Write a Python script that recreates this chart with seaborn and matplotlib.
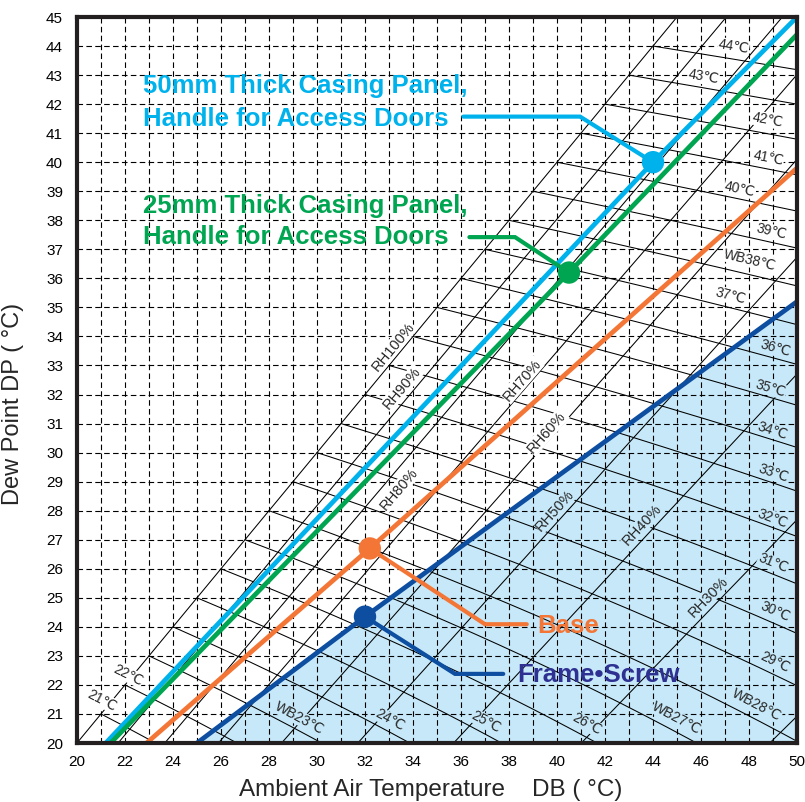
import numpy as np
import pandas as pd
import matplotlib
matplotlib.use('Agg')
import matplotlib.pyplot as plt
import seaborn as sns

# condensation limit lines, dry bulb DB vs dew point DP
casing50_db = [21.2, 44.0, 50.0]
casing50_dp = [20.0, 40.0, 45.0]
casing25_db = [21.4, 40.5, 50.0]
casing25_dp = [20.0, 36.2, 44.4]
base_db = [22.9, 32.2, 50.0]
base_dp = [20.0, 26.7, 39.8]
frame_db = [25.0, 32.0, 50.0]
frame_dp = [20.0, 24.35, 35.2]

# marked points on each line
point_names = ['50mm', '25mm', 'Base', 'Frame']
point_db = [44.0, 40.5, 32.2, 32.0]
point_dp = [40.0, 36.2, 26.7, 24.35]

# psychrometric background
rh_levels = [100, 90, 80, 70, 60, 50, 40, 30, 20]
rh_labels = ['RH100%', 'RH90%', 'RH80%', 'RH70%', 'RH60%', 'RH50%', 'RH40%', 'RH30%']
wb_levels = list(range(21, 45))
wb_labels = ['21℃', '22℃', 'WB23℃', '24℃', '25℃', '26℃', 'WB27℃', 'WB28℃',
             '29℃', '30℃', '31℃', '32℃', '33℃', '34℃', '35℃', '36℃', '37℃',
             'WB38℃', '39℃', '40℃', '41℃', '42℃', '43℃', '44℃']

# label placement (DB, DP of label centre)
rh_label_pos = [(33.17, 33.64), (33.54, 32.22), (33.42, 28.75), (38.54, 32.5),
                (39.58, 30.71), (39.92, 28.02), (43.54, 27.5), (46.29, 25.03)]
wb_label_pos = [(21.03, 21.48), (22.14, 22.34), (29.29, 20.85), (33.04, 20.79),
                (37.04, 20.73), (41.26, 20.65), (44.99, 20.85), (48.32, 21.31),
                (49.08, 22.8), (49.08, 24.52), (49.0, 26.19), (49.0, 27.74),
                (49.0, 29.29), (48.98, 30.75), (48.9, 32.21), (49.1, 33.59),
                (47.25, 35.39), (48.04, 36.63), (48.94, 37.61), (47.63, 39.07),
                (48.8, 40.13), (48.8, 41.45), (46.1, 42.94), (47.35, 43.98)]

CYAN = '#00b2ec'
GREEN = '#00a551'
ORANGE = '#f47636'
NAVY = '#0d4ea1'
INDIGO = '#2e3192'
SHADE = '#c6e8f8'

P_ATM = 1013.25


def sat_vp(t):
    return 6.112 * np.exp(17.62 * t / (243.12 + t))


def dew_point(e):
    g = np.log(e / 6.112)
    return 243.12 * g / (17.62 - g)


def rh_curve(rh, db):
    return dew_point(rh / 100.0 * sat_vp(db))


def wb_curve(wb, db):
    ws = 0.622 * sat_vp(wb) / (P_ATM - sat_vp(wb))
    w = ((2501 - 2.326 * wb) * ws - 1.006 * (db - wb)) / (2501 + 1.86 * db - 4.186 * wb)
    w = np.where(w > 0, w, np.nan)
    return dew_point(w * P_ATM / (0.622 + w))


sns.set_style('white')
plt.rcParams['font.family'] = ['Liberation Sans', 'DejaVu Sans']

fig = plt.figure(figsize=(8.05, 8.02), dpi=100)
ax = fig.add_axes([77 / 805, 59 / 802, 720 / 805, 726 / 802])
ax.set_xlim(20, 50)
ax.set_ylim(20, 45)

sx = 720 / 30.0
sy = 726 / 25.0


def screen_angle(dx, dy):
    return np.degrees(np.arctan2(dy * sy, dx * sx))


# shaded condensation zone under the frame/screw line
ax.fill_between(frame_db, frame_dp, 20, color=SHADE, lw=0, zorder=0.5)

# RH curves
db_grid = np.linspace(19, 51, 400)
for rh in rh_levels:
    ax.plot(db_grid, rh_curve(rh, db_grid), color='black', lw=0.75, zorder=1)

# WB lines, starting on the saturation line
for wb in wb_levels:
    dbs = np.linspace(wb, 51, 300)
    ax.plot(dbs, wb_curve(wb, dbs), color='black', lw=0.75, zorder=1)

for rh, lab, (x, y) in zip(rh_levels, rh_labels, rh_label_pos):
    d = rh_curve(rh, x + 0.1) - rh_curve(rh, x - 0.1)
    bg = SHADE if rh <= 50 else 'white'
    ax.text(x, y, lab, rotation=screen_angle(0.2, d), ha='center', va='center',
            fontsize=10.5, rotation_mode='anchor', zorder=2.6,
            bbox=dict(fc=bg, ec='none', pad=0.5))

for wb, lab, (x, y) in zip(wb_levels, wb_labels, wb_label_pos):
    d = wb_curve(wb, x + 0.1) - wb_curve(wb, x - 0.1)
    below = y < np.interp(x, frame_db, frame_dp)
    bg = SHADE if below else 'white'
    ax.text(x, y, lab, rotation=screen_angle(0.2, d), ha='center', va='center',
            fontsize=10, rotation_mode='anchor', zorder=2.6,
            bbox=dict(fc=bg, ec='none', pad=0.3))

# dashed grid every degree
ax.set_xticks(np.arange(20, 51, 2))
ax.set_xticks(np.arange(20, 51, 1), minor=True)
ax.set_yticks(np.arange(20, 46, 1))
ax.set_axisbelow(False)
ax.grid(which='both', color='black', lw=0.8, ls=(0, (5, 3)))

lines = pd.concat([
    pd.DataFrame({'db': casing50_db, 'dp': casing50_dp, 'series': '50mm'}),
    pd.DataFrame({'db': casing25_db, 'dp': casing25_dp, 'series': '25mm'}),
    pd.DataFrame({'db': base_db, 'dp': base_dp, 'series': 'Base'}),
    pd.DataFrame({'db': frame_db, 'dp': frame_dp, 'series': 'Frame'}),
])
palette = {'50mm': CYAN, '25mm': GREEN, 'Base': ORANGE, 'Frame': NAVY}
sns.lineplot(data=lines, x='db', y='dp', hue='series', palette=palette, lw=3.4,
             sort=False, legend=False, ax=ax, zorder=3)

points = pd.DataFrame({'db': point_db, 'dp': point_dp, 'series': point_names})
sns.scatterplot(data=points, x='db', y='dp', hue='series', palette=palette, s=260,
                edgecolor='none', legend=False, ax=ax, zorder=4)

# leader lines: dot -> bend -> near text
leaders = {
    '50mm': [(40.96, 41.57), (36.1, 41.57)],
    '25mm': [(38.25, 37.42), (36.35, 37.42)],
    'Base': [(37.0, 24.09), (38.74, 24.09)],
    'Frame': [(35.75, 22.38), (37.76, 22.38)],
}
for name, x0, y0 in zip(point_names, point_db, point_dp):
    xs = [x0] + [p[0] for p in leaders[name]]
    ys = [y0] + [p[1] for p in leaders[name]]
    ax.plot(xs, ys, color=palette[name], lw=3, zorder=3, solid_joinstyle='miter')

tkw = dict(fontsize=18.5, fontweight='bold', ha='left', va='baseline', zorder=5)
ax.text(22.75, 42.38, '50mm Thick Casing Panel,', color=CYAN, **tkw)
ax.text(22.75, 41.25, 'Handle for Access Doors', color=CYAN, **tkw)
ax.text(22.75, 38.24, '25mm Thick Casing Panel,', color=GREEN, **tkw)
ax.text(22.75, 37.17, 'Handle for Access Doors', color=GREEN, **tkw)
ax.text(39.17, 23.80, 'Base', color=ORANGE, **tkw)
ax.text(38.33, 22.11, 'Frame•Screw', color=INDIGO, **tkw)

for sp in ax.spines.values():
    sp.set_visible(True)
    sp.set_color('#231f20')
    sp.set_linewidth(3)
    sp.set_zorder(6)

ax.tick_params(which='both', length=0, labelsize=11, colors='black')
ax.tick_params(axis='y', pad=10)
ax.tick_params(axis='x', pad=9)
ax.set_xlabel('')
ax.set_ylabel('')

fig.text(431 / 805, 1 - 790 / 802, 'Ambient Air Temperature    DB ( °C)',
         ha='center', va='center', fontsize=17.5)
fig.text(13 / 805, 1 - 404 / 802, 'Dew Point DP ( °C)', rotation=90,
         ha='center', va='center', fontsize=17)

fig.savefig('out.png', dpi=100)
